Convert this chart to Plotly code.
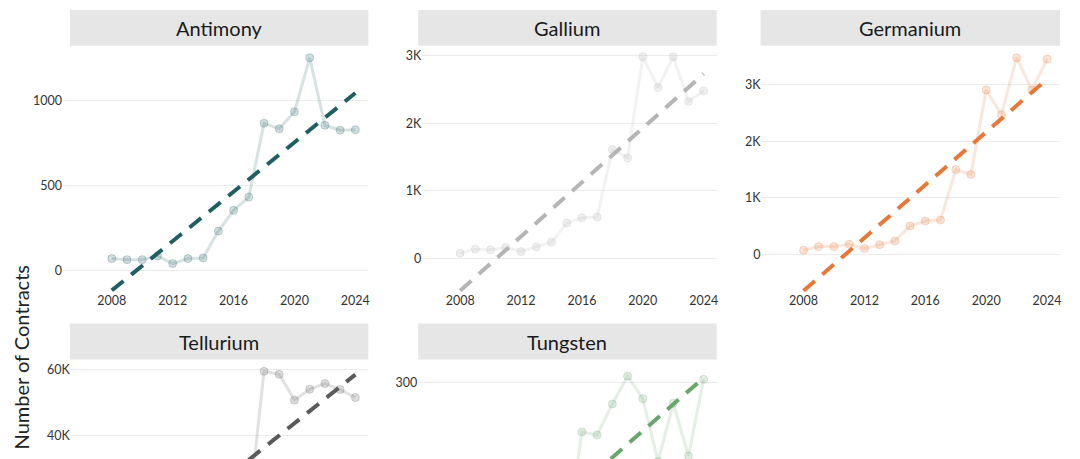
import numpy as np
import plotly.graph_objects as go

# ---------------- data ----------------
years = list(range(2008, 2025))
antimony = [68, 62, 62, 84, 39, 68, 72, 230, 352, 430, 865, 832, 932, 1250, 853, 824, 826]
gallium = [74, 133, 123, 157, 98, 167, 236, 521, 600, 610, 1610, 1486, 2988, 2530, 2988, 2323, 2481]
germanium = [71, 134, 134, 176, 99, 169, 235, 500, 588, 605, 1500, 1412, 2912, 2471, 3483, 2912, 3459]
tellurium = [13000, 12000, 12000, 11000, 10000, 10000, 9000, 8000, 8300, 17000,
             59500, 58600, 50800, 54100, 55800, 54000, 51600]
tungsten = [55, 60, 62, 65, 68, 72, 82, 97, 236, 232, 272, 308, 279, 198, 273, 205, 304]

metals = ["Antimony", "Gallium", "Germanium", "Tellurium", "Tungsten"]
series = [antimony, gallium, germanium, tellurium, tungsten]
colors = ["#1f5f63", "#b5b5b5", "#e6793a", "#5a5a5a", "#6aa56e"]

x_tick_vals = [2008, 2012, 2016, 2020, 2024]
x_tick_text = ["2008", "2012", "2016", "2020", "2024"]
y_tick_vals = [[0, 500, 1000], [0, 1000, 2000, 3000], [0, 1000, 2000, 3000],
               [20000, 40000, 60000], [100, 200, 300]]
y_tick_text = [["0", "500", "1000"], ["0", "1K", "2K", "3K"], ["0", "1K", "2K", "3K"],
               ["20K", "40K", "60K"], ["100", "200", "300"]]
y_title = "Number of Contracts"

# ---------------- layout geometry (window pixels) ----------------
PAGE_OFFSET = 8          # default body margin of the page
W, H = 1072, 451
plot_x = [(63, 369), (423, 718), (763, 1062), (71, 369), (419, 718)]
head_x = [(70, 369), (419, 718), (762, 1062), (70, 369), (419, 718)]
plot_y = [(48, 291), (48, 291), (48, 291), (363, 459), (363, 459)]
head_y = [(8, 44), (8, 44), (8, 44), (323, 359), (323, 359)]
y_ranges = [(-127, 1297), (-498, 3089), (-666, 3623), (33000, 61900), (201, 324.5)]
px_per_year = 15.25


def px_x(p):
    return (p - PAGE_OFFSET) / W


def px_y(p):
    return 1 - (p - PAGE_OFFSET) / H


def rgba(hex_color, a):
    h = hex_color.lstrip("#")
    r, g, b = int(h[0:2], 16), int(h[2:4], 16), int(h[4:6], 16)
    return f"rgba({r},{g},{b},{a})"


fig = go.Figure()
shapes = []
annotations = []
layout_axes = {}
font_family = "Lato, 'Open Sans', sans-serif"

for i, (name, vals, col) in enumerate(zip(metals, series, colors)):
    n = i + 1
    xa = "x" if n == 1 else f"x{n}"
    ya = "y" if n == 1 else f"y{n}"
    xkey = "xaxis" if n == 1 else f"xaxis{n}"
    ykey = "yaxis" if n == 1 else f"yaxis{n}"

    # observed series
    fig.add_trace(go.Scatter(
        x=years, y=vals, mode="lines+markers", xaxis=xa, yaxis=ya,
        line=dict(color=rgba(col, 0.18), width=3),
        marker=dict(size=8, color=rgba(col, 0.2), line=dict(color=rgba(col, 0.25), width=1)),
        showlegend=False, hoverinfo="x+y", name=name,
    ))
    # linear trend
    slope, intercept = np.polyfit(years, vals, 1)
    trend = [slope * yr + intercept for yr in (years[0], years[-1])]
    fig.add_trace(go.Scatter(
        x=[years[0], years[-1]], y=trend, mode="lines", xaxis=xa, yaxis=ya,
        line=dict(color=col, width=4, dash="15px,10px"),
        showlegend=False, hoverinfo="skip",
    ))

    x0, x1 = plot_x[i]
    width_px = x1 - x0
    xr_right = years[-1] + 13 / px_per_year
    xr_left = xr_right - width_px / px_per_year
    y0, y1 = plot_y[i]
    bottom_row = i >= 3

    layout_axes[xkey] = dict(
        domain=[max(0, px_x(x0)), min(1, px_x(x1))], anchor=ya, range=[xr_left, xr_right],
        showgrid=False, zeroline=False, showline=False, ticks="",
        tickvals=x_tick_vals, ticktext=x_tick_text, showticklabels=not bottom_row,
        tickfont=dict(family=font_family, size=12.5, color="#333333"),
    )
    layout_axes[ykey] = dict(
        domain=[max(0, px_y(y1)), min(1, px_y(y0))], anchor=xa, range=list(y_ranges[i]),
        showgrid=True, gridcolor="#ebebeb", gridwidth=1, zeroline=False,
        showline=False, ticks="", tickvals=y_tick_vals[i], ticktext=y_tick_text[i],
        tickfont=dict(family=font_family, size=12.5, color="#333333"),
    )

    hx0, hx1 = head_x[i]
    hy0, hy1 = head_y[i]
    shapes.append(dict(
        type="rect", xref="paper", yref="paper", x0=px_x(hx0), x1=px_x(hx1),
        y0=px_y(hy1), y1=px_y(hy0), fillcolor="#e6e6e6", line=dict(width=0), layer="below",
    ))
    annotations.append(dict(
        text=name, xref="paper", yref="paper", x=px_x((hx0 + hx1) / 2),
        y=px_y((hy0 + hy1) / 2), xanchor="center", yanchor="middle", showarrow=False,
        font=dict(family=font_family, size=20, color="#1a1a1a"),
    ))

annotations.append(dict(
    text=y_title, xref="paper", yref="paper", x=0, y=px_y(357),
    xanchor="left", yanchor="middle", textangle=-90, showarrow=False, borderpad=0,
    font=dict(family=font_family, size=20, color="#222222"),
))

fig.update_layout(
    width=W, height=H, margin=dict(l=0, r=0, t=0, b=0),
    paper_bgcolor="white", plot_bgcolor="white",
    shapes=shapes, annotations=annotations,
    font=dict(family=font_family),
    **layout_axes,
)

fig.write_html("out.html")
